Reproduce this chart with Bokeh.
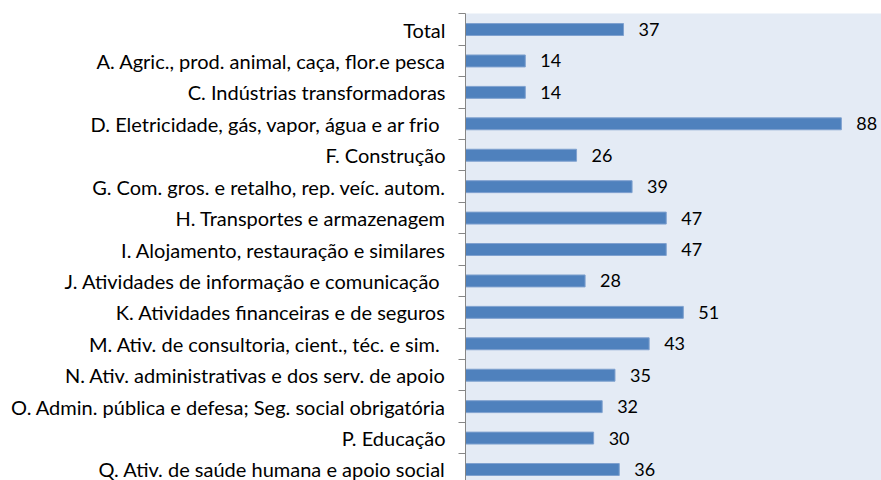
from bokeh.plotting import figure
from bokeh.models import Range1d, FixedTicker, ColumnDataSource
from bokeh.core.properties import value
from bokeh.embed import file_html
from bokeh.resources import INLINE

categories = [
    "Total",
    "A. Agric., prod. animal, caça, flor.e pesca",
    "C. Indústrias transformadoras",
    "D. Eletricidade, gás, vapor, água e ar frio ",
    "F. Construção",
    "G. Com. gros. e retalho, rep. veíc. autom.",
    "H. Transportes e armazenagem",
    "I. Alojamento, restauração e similares",
    "J. Atividades de informação e comunicação ",
    "K. Atividades financeiras e de seguros",
    "M. Ativ. de consultoria, cient., téc. e sim. ",
    "N. Ativ. administrativas e dos serv. de apoio",
    "O. Admin. pública e defesa; Seg. social obrigatória",
    "P. Educação",
    "Q. Ativ. de saúde humana e apoio social",
]
values = [37, 14, 14, 88, 26, 39, 47, 47, 28, 51, 43, 35, 32, 30, 36]

pos = list(range(len(categories)))
src = ColumnDataSource(dict(y=pos, v=values, lbl=[str(v) for v in values]))

p = figure(width=881, height=480, output_backend="svg", toolbar_location=None,
           x_range=Range1d(0, 97.4), y_range=Range1d(start=14.35, end=-0.51),
           min_border_left=465, min_border_right=0, min_border_top=13, min_border_bottom=0)
p.background_fill_color = "#E4EBF5"
p.border_fill_color = "white"
p.outline_line_color = None
p.xaxis.visible = False
p.xgrid.visible = False
p.ygrid.visible = False

p.hbar(y="y", right="v", left=0, height=0.38, source=src,
       fill_color="#4F81BD", line_color="#7FA1CF", line_width=1)
p.text(x="v", y="y", text="lbl", source=src, x_offset=15, y_offset=0,
       text_baseline="middle", text_align="left",
       text_font=value("Lato"), text_font_size="18px", text_color="black")

ax = p.yaxis[0]
ax.ticker = FixedTicker(ticks=pos, minor_ticks=[i - 0.5 for i in range(len(pos) + 1)])
ax.major_label_overrides = {i: c for i, c in enumerate(categories)}
ax.major_tick_line_color = None
ax.major_tick_out = 0
ax.major_tick_in = 0
ax.minor_tick_out = 7
ax.minor_tick_in = 0
ax.minor_tick_line_color = "#868686"
ax.axis_line_color = "#868686"
ax.major_label_standoff = 13
ax.major_label_text_font = "Lato"
ax.major_label_text_font_size = "20px"
ax.major_label_text_color = "black"

open("out.html", "w").write(file_html(p, INLINE))
